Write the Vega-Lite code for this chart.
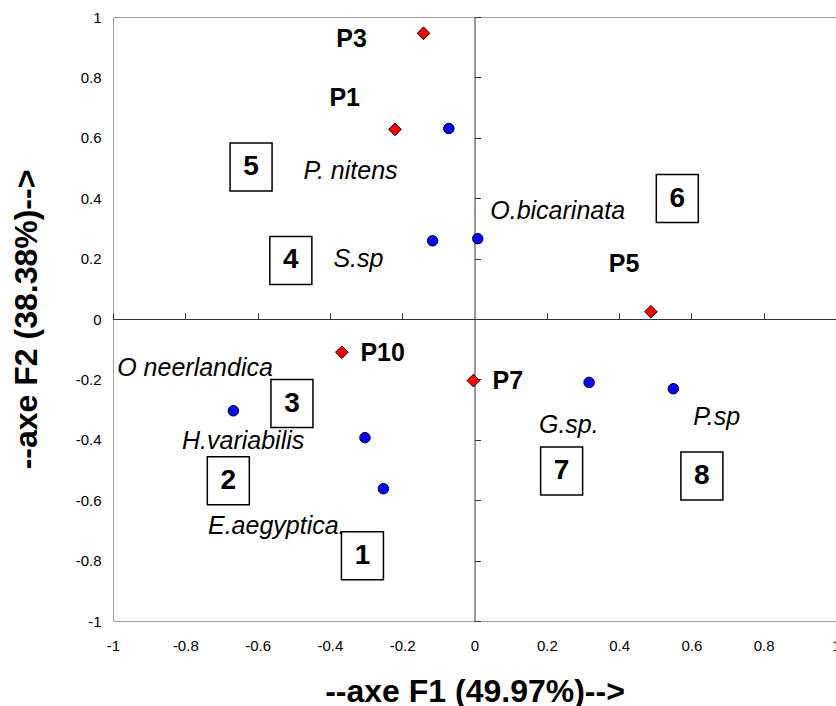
{
  "$schema": "https://vega.github.io/schema/vega-lite/v6.json",
  "autosize": {"type": "none"},
  "padding": {"left": 113, "top": 17, "right": 0, "bottom": 85},
  "width": 723,
  "height": 604,
  "background": "white",
  "config": {
    "view": {"stroke": "#a0a0a0", "strokeWidth": 1},
    "font": "Liberation Sans",
    "axis": {"grid": false, "labelColor": "black", "titleColor": "black"}
  },
  "datasets": {
    "species": [
      {"name": "P. nitens", "F1": -0.071, "F2": 0.631},
      {"name": "S.sp", "F1": -0.116, "F2": 0.259},
      {"name": "O.bicarinata", "F1": 0.009, "F2": 0.266},
      {"name": "G.sp.", "F1": 0.317, "F2": -0.210},
      {"name": "P.sp", "F1": 0.550, "F2": -0.231},
      {"name": "O neerlandica", "F1": -0.667, "F2": -0.304},
      {"name": "H.variabilis", "F1": -0.303, "F2": -0.393},
      {"name": "E.aegyptica.", "F1": -0.252, "F2": -0.562}
    ],
    "sites": [
      {"name": "P3", "F1": -0.141, "F2": 0.946},
      {"name": "P1", "F1": -0.220, "F2": 0.628},
      {"name": "P5", "F1": 0.488, "F2": 0.024},
      {"name": "P10", "F1": -0.367, "F2": -0.110},
      {"name": "P7", "F1": -0.003, "F2": -0.204}
    ],
    "siteLabels": [
      {"name": "P3", "F1": -0.340, "F2": 0.927},
      {"name": "P1", "F1": -0.359, "F2": 0.732},
      {"name": "P5", "F1": 0.414, "F2": 0.183},
      {"name": "P10", "F1": -0.254, "F2": -0.111},
      {"name": "P7", "F1": 0.092, "F2": -0.205}
    ],
    "speciesLabels": [
      {"name": "P. nitens", "F1": -0.343, "F2": 0.490},
      {"name": "S.sp", "F1": -0.321, "F2": 0.199},
      {"name": "O.bicarinata", "F1": 0.230, "F2": 0.359},
      {"name": "G.sp.", "F1": 0.261, "F2": -0.351},
      {"name": "P.sp", "F1": 0.670, "F2": -0.326},
      {"name": "O neerlandica", "F1": -0.773, "F2": -0.161},
      {"name": "H.variabilis", "F1": -0.640, "F2": -0.404},
      {"name": "E.aegyptica.", "F1": -0.547, "F2": -0.685}
    ],
    "groups": [
      {"group": "1", "F1": -0.310, "F2": -0.784},
      {"group": "2", "F1": -0.681, "F2": -0.536},
      {"group": "3", "F1": -0.505, "F2": -0.280},
      {"group": "4", "F1": -0.508, "F2": 0.194},
      {"group": "5", "F1": -0.618, "F2": 0.503},
      {"group": "6", "F1": 0.561, "F2": 0.399},
      {"group": "7", "F1": 0.241, "F2": -0.503},
      {"group": "8", "F1": 0.629, "F2": -0.520}
    ]
  },
  "resolve": {"axis": {"x": "independent", "y": "independent"}},
  "layer": [
    {
      "data": {"name": "groups"},
      "mark": {"type": "point", "shape": "M-0.875,-1H0.875V1H-0.875Z", "filled": true, "fill": "white", "stroke": "black", "strokeWidth": 1.5, "opacity": 1, "size": 2304},
      "encoding": {
        "x": {"field": "F1", "type": "quantitative", "scale": {"domain": [-1, 1], "nice": false, "zero": false},
          "axis": {"title": "--axe F1 (49.97%)-->", "values": [-1, -0.8, -0.6, -0.4, -0.2, 0, 0.2, 0.4, 0.6, 0.8, 1], "labelExpr": "'' + datum.value", "domain": false, "ticks": false, "tickSize": 0, "labelPadding": 17, "labelFontSize": 15, "labelFlush": false, "labelOverlap": false, "titleFontSize": 32, "titleFontWeight": "bold", "titlePadding": 23}},
        "y": {"field": "F2", "type": "quantitative", "scale": {"domain": [-1, 1], "nice": false, "zero": false},
          "axis": {"title": "--axe F2 (38.38%)-->", "values": [-1, -0.8, -0.6, -0.4, -0.2, 0, 0.2, 0.4, 0.6, 0.8, 1], "labelExpr": "'' + datum.value", "domain": false, "ticks": false, "tickSize": 0, "labelPadding": 12, "labelFontSize": 15, "labelFlush": false, "labelOverlap": false, "titleFontSize": 32, "titleFontWeight": "bold", "titlePadding": 32}}
      }
    },
    {
      "data": {"name": "groups"},
      "mark": {"type": "text", "fontSize": 28, "fontWeight": "bold", "color": "black", "baseline": "middle", "align": "center"},
      "encoding": {
        "x": {"field": "F1", "type": "quantitative", "scale": {"domain": [-1, 1], "nice": false, "zero": false}, "axis": null},
        "y": {"field": "F2", "type": "quantitative", "scale": {"domain": [-1, 1], "nice": false, "zero": false}, "axis": null},
        "text": {"field": "group"}
      }
    },
    {
      "data": {"name": "species"},
      "mark": {"type": "point", "shape": "circle", "filled": true, "fill": "#0000ff", "stroke": "black", "strokeWidth": 1, "opacity": 1, "size": 110},
      "encoding": {
        "x": {"field": "F1", "type": "quantitative", "scale": {"domain": [-1, 1], "nice": false, "zero": false},
          "axis": {"title": null, "labels": false, "values": [-1, -0.8, -0.6, -0.4, -0.2, 0.2, 0.4, 0.6, 0.8, 1], "domain": true, "domainColor": "#333333", "domainWidth": 1, "ticks": true, "tickColor": "#333333", "tickSize": 6, "tickWidth": 1, "offset": -302}},
        "y": {"field": "F2", "type": "quantitative", "scale": {"domain": [-1, 1], "nice": false, "zero": false},
          "axis": {"title": null, "labels": false, "values": [-1, -0.8, -0.6, -0.4, -0.2, 0.2, 0.4, 0.6, 0.8, 1], "domain": true, "domainColor": "#333333", "domainWidth": 1, "ticks": true, "tickColor": "#333333", "tickSize": 6, "tickWidth": 1, "offset": -361.5}}
      }
    },
    {
      "data": {"name": "sites"},
      "mark": {"type": "point", "shape": "diamond", "filled": true, "fill": "#ff0000", "stroke": "black", "strokeWidth": 1, "opacity": 1, "size": 160},
      "encoding": {
        "x": {"field": "F1", "type": "quantitative", "scale": {"domain": [-1, 1], "nice": false, "zero": false}, "axis": null},
        "y": {"field": "F2", "type": "quantitative", "scale": {"domain": [-1, 1], "nice": false, "zero": false}, "axis": null}
      }
    },
    {
      "data": {"name": "speciesLabels"},
      "mark": {"type": "text", "fontSize": 25, "fontStyle": "italic", "color": "black", "baseline": "middle", "align": "center"},
      "encoding": {
        "x": {"field": "F1", "type": "quantitative", "scale": {"domain": [-1, 1], "nice": false, "zero": false}, "axis": null},
        "y": {"field": "F2", "type": "quantitative", "scale": {"domain": [-1, 1], "nice": false, "zero": false}, "axis": null},
        "text": {"field": "name"}
      }
    },
    {
      "data": {"name": "siteLabels"},
      "mark": {"type": "text", "fontSize": 25, "fontWeight": "bold", "color": "black", "baseline": "middle", "align": "center"},
      "encoding": {
        "x": {"field": "F1", "type": "quantitative", "scale": {"domain": [-1, 1], "nice": false, "zero": false}, "axis": null},
        "y": {"field": "F2", "type": "quantitative", "scale": {"domain": [-1, 1], "nice": false, "zero": false}, "axis": null},
        "text": {"field": "name"}
      }
    }
  ]
}
